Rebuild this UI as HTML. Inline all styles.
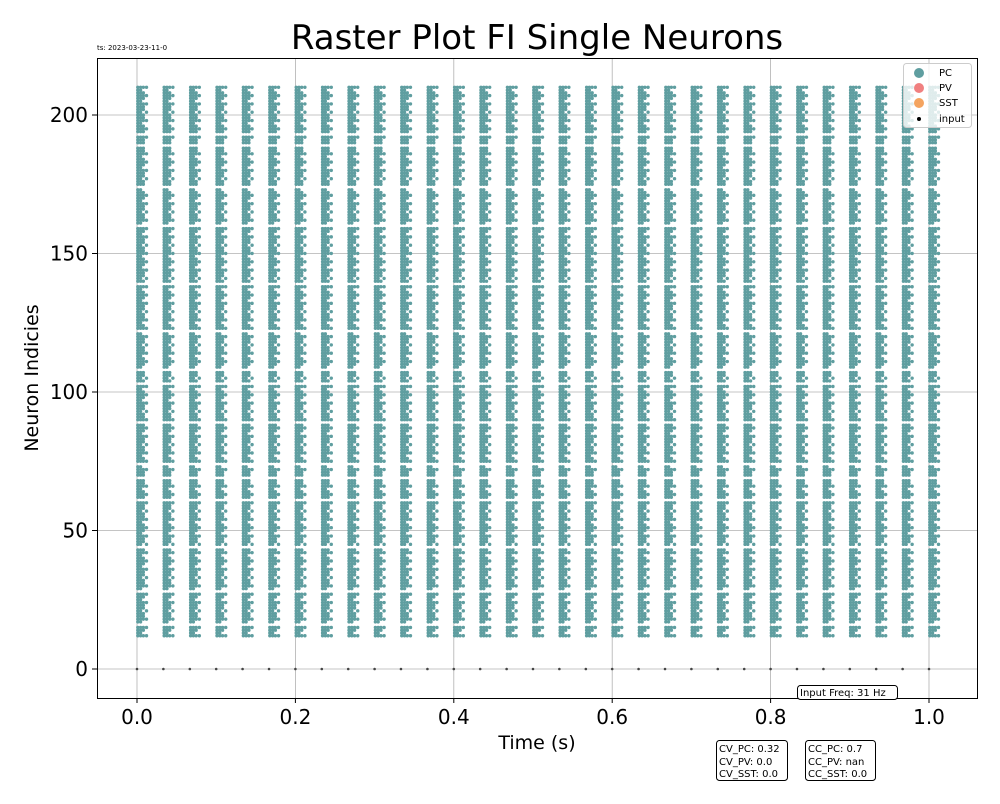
<!DOCTYPE html>
<html><head><meta charset="utf-8"><style>
body{margin:0;background:#fff;font-family:"DejaVu Sans","Liberation Sans",sans-serif}
</style></head><body>
<svg id="chart" width="1000" height="800" xmlns="http://www.w3.org/2000/svg" font-family="DejaVu Sans, Liberation Sans, sans-serif">
<rect width="1000" height="800" fill="#fff"/>
<text x="537" y="49" font-size="34" text-anchor="middle">Raster Plot FI Single Neurons</text>
<text x="97" y="50" font-size="7">ts: 2023-03-23-11-0</text>
<g id="grid"></g>
<g id="marks"></g>
<rect x="97.5" y="58.5" width="880" height="640" fill="none" stroke="#000" stroke-width="1"/>
<g id="ticks"></g>
<text x="537" y="749" font-size="19" text-anchor="middle">Time (s)</text>
<text transform="translate(38,378) rotate(-90)" font-size="19" text-anchor="middle">Neuron Indicies</text>
<g>
<rect x="903.5" y="63.5" width="68" height="64" rx="3" fill="#fff" fill-opacity="0.8" stroke="#ccc"/>
<circle cx="919" cy="73" r="5" fill="#5f9ea0"/><text x="939" y="76" font-size="10">PC</text>
<circle cx="919" cy="88" r="5" fill="#f08080"/><text x="939" y="91" font-size="10">PV</text>
<circle cx="919" cy="103" r="5" fill="#f4a460"/><text x="939" y="106" font-size="10">SST</text>
<circle cx="919" cy="119" r="2" fill="#000"/><text x="939" y="122" font-size="10">input</text>
</g>
<g><rect x="797.5" y="685.5" width="100" height="14" rx="3" fill="#fff" stroke="#000"/><text x="800" y="696" font-size="10">Input Freq: 31 Hz</text></g>
<g><rect x="716.5" y="740.5" width="71" height="40" rx="3" fill="#fff" stroke="#000"/>
<text x="719" y="752" font-size="10">CV_PC: 0.32</text><text x="719" y="765" font-size="10">CV_PV: 0.0</text><text x="719" y="777" font-size="10">CV_SST: 0.0</text></g>
<g><rect x="805.5" y="740.5" width="70" height="40" rx="3" fill="#fff" stroke="#000"/>
<text x="808" y="752" font-size="10">CC_PC: 0.7</text><text x="808" y="765" font-size="10">CC_PV: nan</text><text x="808" y="777" font-size="10">CC_SST: 0.0</text></g>
</svg>
<script>
const inputTimes=[0,0.0333,0.0667,0.1,0.1333,0.1667,0.2,0.2333,0.2667,0.3,0.3333,0.3667,0.4,0.4333,0.4667,0.5,0.5333,0.5667,0.6,0.6333,0.6667,0.7,0.7333,0.7667,0.8,0.8333,0.8667,0.9,0.9333,0.9667,1.0];
const spikeOffsets=[0.0010,0.0045,0.0080,0.0120];
const neuronFirst=12, neuronLast=210;
const missingNeurons=[16,28,44,61,69,74,89,103,108,122,139,160,174,189,193];
const xTicks=[0,0.2,0.4,0.6,0.8,1.0];
const xTickLabels=["0.0","0.2","0.4","0.6","0.8","1.0"];
const yTicks=[0,50,100,150,200];
const yTickLabels=["0","50","100","150","200"];
const X=t=>137+t*792, Y=n=>669-n*2.77;
const NS="http://www.w3.org/2000/svg";
const grid=document.getElementById('grid'),marks=document.getElementById('marks'),ticks=document.getElementById('ticks');
function mk(tag,attrs,parent){const e=document.createElementNS(NS,tag);for(const k in attrs)e.setAttribute(k,attrs[k]);parent.appendChild(e);return e;}
xTicks.forEach((t,i)=>{
 const g=mk('line',{x1:X(t),x2:X(t),y1:58,y2:698,stroke:'#b0b0b0','stroke-width':0.8},grid);
 
 
 mk('line',{x1:X(t),x2:X(t),y1:698,y2:703,stroke:'#000'},ticks);
 const l=mk('text',{x:X(t),y:724,'font-size':20,'text-anchor':'middle'},ticks);l.textContent=xTickLabels[i];
 
 
});
yTicks.forEach((v,i)=>{
 const g=mk('line',{x1:97,x2:977,y1:Y(v),y2:Y(v),stroke:'#b0b0b0','stroke-width':0.8},grid);
 
 
 mk('line',{x1:92,x2:97,y1:Y(v),y2:Y(v),stroke:'#000'},ticks);
 const l=mk('text',{x:88,y:Y(v)+7,'font-size':20,'text-anchor':'end'},ticks);l.textContent=yTickLabels[i];
 
 
});
const miss=new Set(missingNeurons);
inputTimes.forEach(t=>{
 const g=mk('g',{fill:'#5f9ea0'},marks);
 
 
 spikeOffsets.forEach((o,j)=>{
  for(let n=neuronFirst;n<=neuronLast;n++){
   if(miss.has(n))continue;
   if(j==3 && (n%3!=0))continue;
   if(j==2 && (n%4==1))continue;
   mk('circle',{cx:X(t+o),cy:Y(n),r:1.7},g);
  }
 });
 const d=mk('circle',{cx:X(t),cy:Y(0),r:1.3,fill:'#444'},marks);
 
 
});
</script>
</body></html>
